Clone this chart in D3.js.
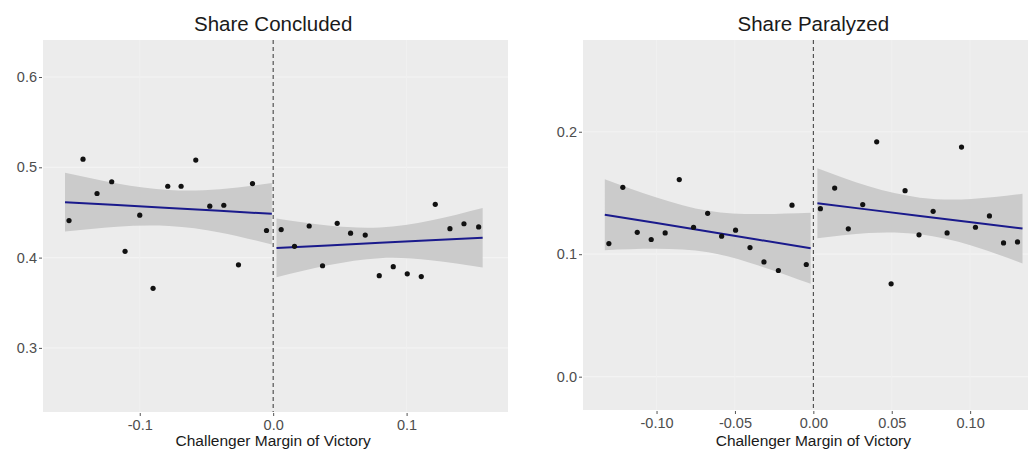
<!DOCTYPE html>
<html>
<head>
<meta charset="utf-8">
<script src="https://cdn.jsdelivr.net/npm/d3@7"></script>
<style>
  html, body { margin: 0; padding: 0; background: #ffffff; }
  svg { display: block; font-family: "Liberation Sans", Arial, Helvetica, sans-serif; }
</style>
</head>
<body>
<svg id="chart" width="1036" height="450"></svg>
<script>
// ---- Share Concluded: binned means ----
const concludedX = [-0.153, -0.1425, -0.132, -0.121, -0.111, -0.100, -0.090, -0.079, -0.069, -0.058,
                    -0.0475, -0.037, -0.026, -0.0155, -0.005,
                    0.006, 0.016, 0.027, 0.037, 0.048, 0.058, 0.069, 0.0795, 0.090, 0.1005,
                    0.111, 0.1215, 0.1325, 0.143, 0.154];
const concludedY = [0.441, 0.509, 0.471, 0.484, 0.407, 0.447, 0.366, 0.479, 0.479, 0.508,
                    0.457, 0.458, 0.392, 0.482, 0.430,
                    0.431, 0.4125, 0.435, 0.391, 0.438, 0.427, 0.425, 0.380, 0.390, 0.382,
                    0.379, 0.459, 0.432, 0.4375, 0.434];

// Linear fits and 95% bands, left / right of the cutoff
const concludedFitLeftX  = [-0.156, -0.117, -0.078, -0.040, -0.001];
const concludedFitLeftY  = [0.4614, 0.4582, 0.4549, 0.4518, 0.4485];
const concludedFitLeftLo = [0.4289, 0.4342, 0.4349, 0.4278, 0.4145];
const concludedFitLeftHi = [0.4939, 0.4822, 0.4749, 0.4758, 0.4825];
const concludedFitRightX  = [0.0025, 0.041, 0.080, 0.118, 0.157];
const concludedFitRightY  = [0.4107, 0.4135, 0.4164, 0.4191, 0.422];
const concludedFitRightLo = [0.3782, 0.3915, 0.3994, 0.3971, 0.389];
const concludedFitRightHi = [0.4432, 0.4355, 0.4334, 0.4411, 0.455];

// ---- Share Paralyzed: binned means ----
const paralyzedX = [-0.1304, -0.1215, -0.1123, -0.1034, -0.0945, -0.0855, -0.0764, -0.0674, -0.0585, -0.0496,
                    -0.0404, -0.0315, -0.0223, -0.0136, -0.0045,
                    0.0045, 0.0136, 0.0223, 0.0315, 0.0404, 0.0496, 0.0585, 0.0674, 0.0764, 0.0853,
                    0.0945, 0.1034, 0.1123, 0.1213, 0.1302];
const paralyzedY = [0.1087, 0.1546, 0.1179, 0.112, 0.1174, 0.1609, 0.122, 0.1334, 0.1147, 0.1196,
                    0.1054, 0.0937, 0.0867, 0.140, 0.0916,
                    0.1372, 0.154, 0.1207, 0.1405, 0.1918, 0.0758, 0.1519, 0.1158, 0.135, 0.1174,
                    0.1875, 0.122, 0.1313, 0.1092, 0.110];

const paralyzedFitLeftX  = [-0.133, -0.100, -0.067, -0.035, -0.0017];
const paralyzedFitLeftY  = [0.1323, 0.1254, 0.1185, 0.1118, 0.1049];
const paralyzedFitLeftLo = [0.1033, 0.1044, 0.1015, 0.0908, 0.0759];
const paralyzedFitLeftHi = [0.1613, 0.1464, 0.1355, 0.1328, 0.1339];
const paralyzedFitRightX  = [0.0026, 0.0353, 0.068, 0.1007, 0.1334];
const paralyzedFitRightY  = [0.1416, 0.1364, 0.1312, 0.1261, 0.1209];
const paralyzedFitRightLo = [0.1131, 0.1174, 0.1162, 0.1071, 0.0924];
const paralyzedFitRightHi = [0.1701, 0.1554, 0.1462, 0.1451, 0.1494];

// Axis ticks
const concludedYTicks = [0.3, 0.4, 0.5, 0.6];
const concludedXTicks = [-0.1, 0.0, 0.1];
const paralyzedYTicks = [0.0, 0.1, 0.2];
const paralyzedXTicks = [-0.10, -0.05, 0.00, 0.05, 0.10];

const svg = d3.select("#chart");

// fixed-decimal labels with a plain hyphen for negatives
const fmt = digits => d => (d < 0 ? "-" : "") + Math.abs(d).toFixed(digits);

function panel(opts) {
  const g = svg.append("g");
  const x = d3.scaleLinear().domain(opts.xDomain).range([opts.left, opts.right]);
  const y = d3.scaleLinear().domain(opts.yDomain).range([opts.bottom, opts.top]);

  // panel background
  g.append("rect")
    .attr("x", opts.left).attr("y", opts.top)
    .attr("width", opts.right - opts.left).attr("height", opts.bottom - opts.top)
    .attr("fill", "#ececec");

  // faint major gridlines
  g.selectAll(".gy").data(opts.yTicks).join("line")
    .attr("x1", opts.left).attr("x2", opts.right)
    .attr("y1", d => y(d)).attr("y2", d => y(d))
    .attr("stroke", "#f3f3f3").attr("stroke-width", 1.2);
  g.selectAll(".gx").data(opts.xTicks).join("line")
    .attr("y1", opts.top).attr("y2", opts.bottom)
    .attr("x1", d => x(d)).attr("x2", d => x(d))
    .attr("stroke", "#f0f0f0").attr("stroke-width", 1);

  // confidence bands
  opts.fits.forEach(f => {
    const rows = f.x.map((v, i) => ({ x: v, y: f.y[i], lo: f.lo[i], hi: f.hi[i] }));
    g.append("path")
      .datum(rows)
      .attr("fill", "#cbcbcb")
      .attr("d", d3.area().curve(d3.curveNatural)
        .x(d => x(d.x)).y0(d => y(d.lo)).y1(d => y(d.hi)));
  });

  // dashed cutoff line
  g.append("line")
    .attr("x1", x(0)).attr("x2", x(0))
    .attr("y1", opts.top).attr("y2", opts.bottom)
    .attr("stroke", "#333").attr("stroke-width", 1)
    .attr("stroke-dasharray", "4,3");

  // fitted lines
  opts.fits.forEach(f => {
    const rows = f.x.map((v, i) => ({ x: v, y: f.y[i] }));
    g.append("path")
      .datum(rows)
      .attr("fill", "none")
      .attr("stroke", "#1a1a8c")
      .attr("stroke-width", 2)
      .attr("d", d3.line().x(d => x(d.x)).y(d => y(d.y)));
  });

  // points
  g.selectAll(".pt").data(opts.px.map((v, i) => ({ x: v, y: opts.py[i] }))).join("circle")
    .attr("cx", d => x(d.x)).attr("cy", d => y(d.y))
    .attr("r", 2.6).attr("fill", "#111");

  // axes
  const yAxis = d3.axisLeft(y).tickValues(opts.yTicks).tickFormat(fmt(opts.yDigits))
    .tickSize(3).tickPadding(2);
  const ya = g.append("g").attr("transform", `translate(${opts.left - 1},0)`).call(yAxis);
  ya.select(".domain").remove();
  ya.selectAll(".tick line").attr("stroke", "#555");
  ya.selectAll("text").attr("fill", "#4d4d4d").attr("font-size", 14.5);

  const xAxis = d3.axisBottom(x).tickValues(opts.xTicks).tickFormat(fmt(opts.xDigits))
    .tickSize(3).tickPadding(4);
  const xa = g.append("g").attr("transform", `translate(0,${opts.bottom + 1})`).call(xAxis);
  xa.select(".domain").remove();
  xa.selectAll(".tick line").attr("stroke", "#555");
  xa.selectAll("text").attr("fill", "#4d4d4d").attr("font-size", 14.5);

  // title
  g.append("text")
    .attr("x", x(0)).attr("y", 31)
    .attr("text-anchor", "middle")
    .attr("font-size", 20.5).attr("fill", "#1a1a1a")
    .text(opts.title);

  // x-axis title
  g.append("text")
    .attr("x", x(0)).attr("y", 446)
    .attr("text-anchor", "middle")
    .attr("font-size", 15.5).attr("fill", "#1a1a1a")
    .text("Challenger Margin of Victory");
}

panel({
  title: "Share Concluded",
  left: 43, right: 508, top: 40, bottom: 412,
  xDomain: [-0.1725, 0.176], yDomain: [0.229, 0.641],
  xTicks: concludedXTicks, yTicks: concludedYTicks,
  xDigits: 1, yDigits: 1,
  px: concludedX, py: concludedY,
  fits: [
    { x: concludedFitLeftX, y: concludedFitLeftY, lo: concludedFitLeftLo, hi: concludedFitLeftHi },
    { x: concludedFitRightX, y: concludedFitRightY, lo: concludedFitRightLo, hi: concludedFitRightHi }
  ]
});

panel({
  title: "Share Paralyzed",
  left: 583, right: 1028, top: 40, bottom: 410,
  xDomain: [-0.1469, 0.1369], yDomain: [-0.0272, 0.2749],
  xTicks: paralyzedXTicks, yTicks: paralyzedYTicks,
  xDigits: 2, yDigits: 1,
  px: paralyzedX, py: paralyzedY,
  fits: [
    { x: paralyzedFitLeftX, y: paralyzedFitLeftY, lo: paralyzedFitLeftLo, hi: paralyzedFitLeftHi },
    { x: paralyzedFitRightX, y: paralyzedFitRightY, lo: paralyzedFitRightLo, hi: paralyzedFitRightHi }
  ]
});
</script>
</body>
</html>
